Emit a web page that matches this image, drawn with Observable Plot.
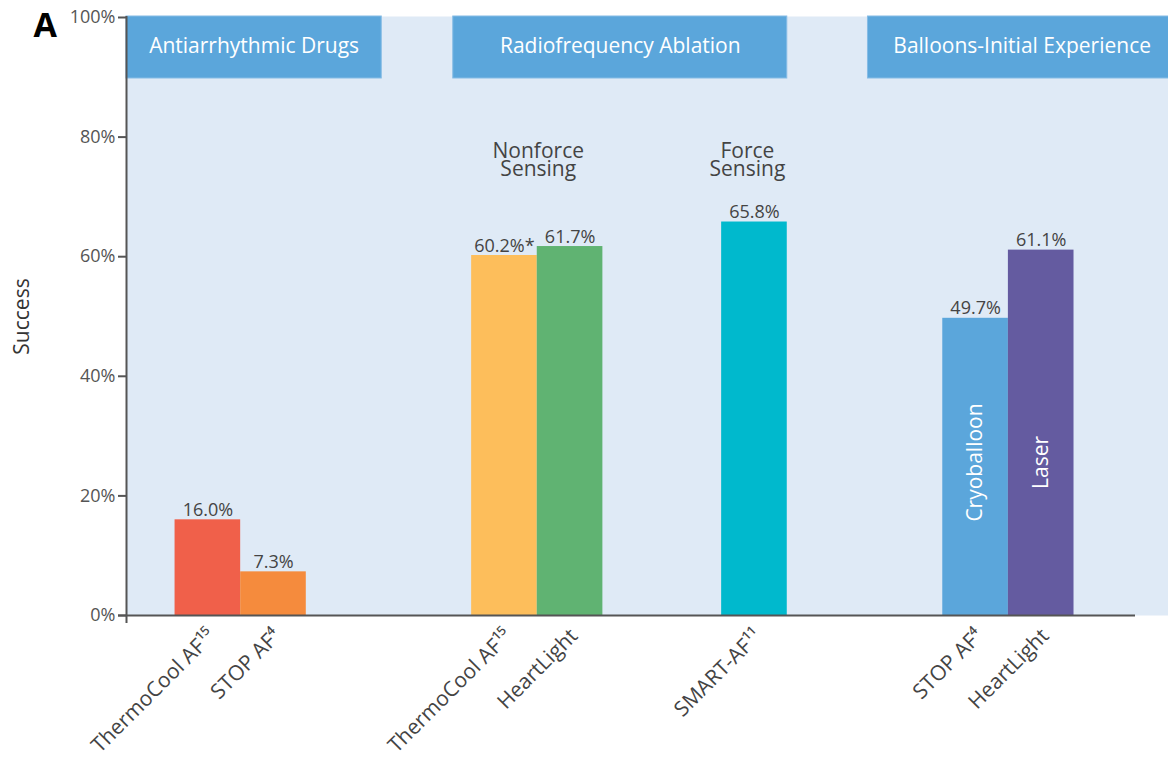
<!DOCTYPE html>
<html><head><meta charset="utf-8">
<script src="https://cdn.jsdelivr.net/npm/d3@7"></script>
<script src="https://cdn.jsdelivr.net/npm/@observablehq/plot@0.6"></script>
<style>
body{margin:0;background:#fff;font-family:"Open Sans",sans-serif}
#chart svg{display:block}
</style>
</head><body><div id="chart"></div>
<script>
// ---- data ----
const labels = ["ThermoCool AF¹⁵", "STOP AF⁴", "ThermoCool AF¹⁵", "HeartLight", "SMART-AF¹¹", "STOP AF⁴", "HeartLight"];
const values = [16.0, 7.3, 60.2, 61.7, 65.8, 49.7, 61.1];
const valueLabels = ["16.0%", "7.3%", "60.2%*", "61.7%", "65.8%", "49.7%", "61.1%"];
const barCluster = [0, 0, 1, 1, 2, 3, 3];
const clusterNotes = ["", "Nonforce\nSensing", "Force\nSensing", ""];
const innerLabels = ["", "", "", "", "", "Cryoballoon", "Laser"];
const headers = ["Antiarrhythmic Drugs", "Radiofrequency Ablation", "Balloons-Initial Experience"];
const yTicks = [0, 20, 40, 60, 80, 100];
const colors = ["#F0604A", "#F58B3D", "#FDBE5B", "#60B372", "#00B9CD", "#5BA6DB", "#645BA0"];

// ---- layout (x in units of one bar width) ----
const gapsBefore = [0.74, 2.52, 1.81, 2.37];
const tail = 1.44;
const headerSpans = [[0, 3.89], [4.98, 10.07], [11.30, 16]];

let pos = 0, cur = -1;
const bars = labels.map((label, i) => {
  if (barCluster[i] !== cur) { cur = barCluster[i]; pos += gapsBefore[cur]; }
  const b = {label, value: values[i], text: valueLabels[i], inner: innerLabels[i], color: colors[i], x1: pos, x2: pos + 1, xc: pos + 0.5, cluster: cur};
  pos += 1;
  return b;
});
const xMax = pos + tail;

const notes = clusterNotes.map((note, c) => {
  const bs = bars.filter(b => b.cluster === c);
  return {note, n: bs.length, x: (d3.min(bs, b => b.x1) + d3.max(bs, b => b.x2)) / 2};
}).filter(d => d.note);

const headerData = headers.map((h, i) => ({h, x1: headerSpans[i][0], x2: headerSpans[i][1], xm: (headerSpans[i][0] + headerSpans[i][1]) / 2}));

const FONT = "Open Sans";
const noteStyle = {x: "x", text: "note", frameAnchor: "top", dy: 128, lineAnchor: "top", lineHeight: 0.85, fill: "#444", fontSize: 21, fontFamily: FONT};

const chart = Plot.plot({
  width: 1168,
  height: 758,
  marginLeft: 126,
  marginRight: 0,
  marginTop: 17,
  marginBottom: 143,
  style: {fontFamily: FONT, background: "white", overflow: "visible"},
  x: {type: "linear", domain: [0, xMax], axis: null},
  y: {domain: [0, 100], axis: null},
  color: {type: "identity"},
  marks: [
    Plot.frame({fill: "#DFEAF6", insetTop: -1}),
    // group header boxes
    Plot.rect(headerData, {x1: "x1", x2: "x2", fill: "#5BA6DB", stroke: "#86BCE5", strokeWidth: 1, insetTop: -1, insetBottom: 537}),
    Plot.text(headerData, {x: "xm", text: "h", frameAnchor: "top", lineAnchor: "middle", dy: 29, fill: "white", fontSize: 21, fontFamily: FONT}),
    // bars
    Plot.rect(bars, {x1: "x1", x2: "x2", y1: 0, y2: "value", fill: "color"}),
    // value labels
    Plot.text(bars, {x: "xc", y: "value", text: "text", lineAnchor: "bottom", dy: -4, fill: "#444", fontSize: 18, fontFamily: FONT}),
    // cluster notes
    Plot.text(notes.filter(d => d.n > 1), {...noteStyle, dx: 1}),
    Plot.text(notes.filter(d => d.n === 1), {...noteStyle, dx: -7}),
    // inner vertical labels
    Plot.text(bars.filter(b => b.inner), {x: "xc", y: 0, text: "inner", rotate: -90, dy: -153, fill: "white", fontSize: 21, fontFamily: FONT}),
    // axes
    Plot.ruleY([0], {stroke: "#555", strokeWidth: 2, insetLeft: -8, insetRight: 33}),
    Plot.ruleX([0], {stroke: "#555", strokeWidth: 2, insetTop: -1, insetBottom: -8}),
    Plot.axisY(yTicks, {tickSize: 8, tickPadding: 3, tickFormat: d => d + "%", fontSize: 18, fill: "#555", stroke: "#555", strokeWidth: 2, label: null, fontFamily: FONT}),
    // x category labels
    Plot.text(bars, {x: "xc", y: 0, text: "label", rotate: -45, textAnchor: "end", dx: 4, dy: 17, fill: "#444", fontSize: 21, fontFamily: FONT}),
    // y label and panel letter
    Plot.text(["Success"], {frameAnchor: "left", textAnchor: "middle", dx: -104, rotate: -90, fill: "#333", fontSize: 21, fontFamily: FONT}),
    Plot.text(["A"], {frameAnchor: "top-left", textAnchor: "start", lineAnchor: "top", dx: -93, dy: -5, fill: "#000", fontSize: 34, fontWeight: 700, fontFamily: FONT})
  ]
});
document.getElementById("chart").append(chart);
</script>
</body></html>
